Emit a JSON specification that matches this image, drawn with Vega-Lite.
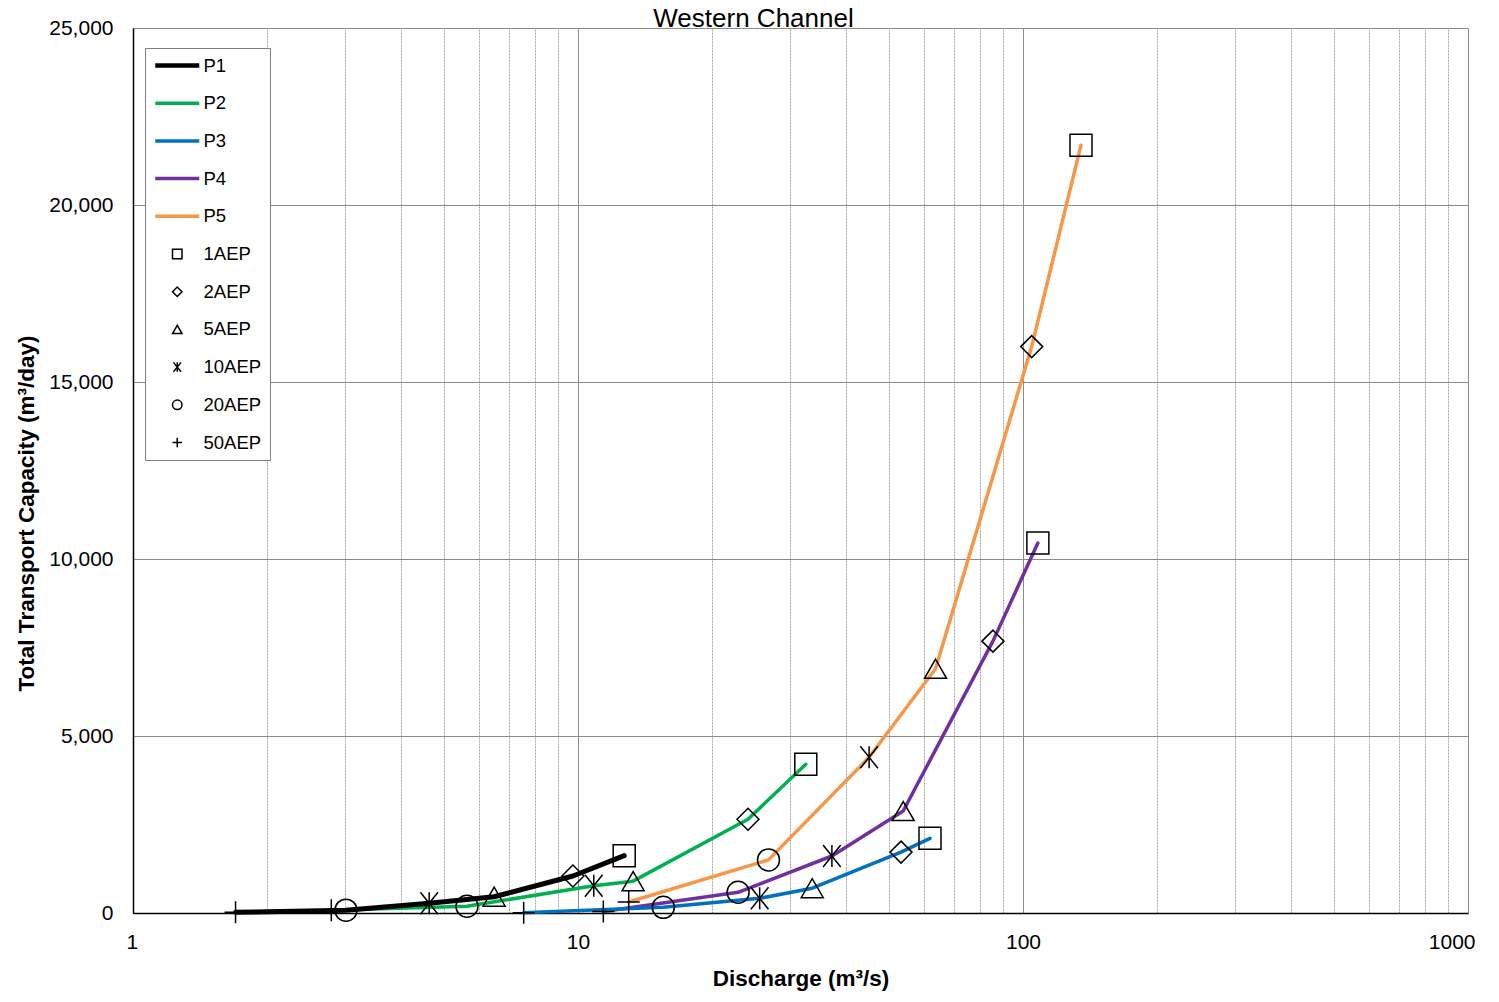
{
  "$schema": "https://vega.github.io/schema/vega-lite/v6.json",
  "width": 1335,
  "height": 885,
  "autosize": "none",
  "padding": {"left": 133, "top": 28, "right": 31, "bottom": 89},
  "background": "white",
  "title": {
    "text": "Western Channel",
    "font": "Liberation Sans",
    "fontSize": 26,
    "fontWeight": "normal",
    "color": "black",
    "anchor": "middle",
    "frame": "group",
    "dx": -47,
    "baseline": "alphabetic",
    "offset": -36
  },
  "data": {
    "values": [
      {"profile": "P5", "aep": "50AEP", "q": 13.0, "tc": 310},
      {"profile": "P5", "aep": "20AEP", "q": 26.8, "tc": 1500},
      {"profile": "P5", "aep": "10AEP", "q": 45.1, "tc": 4400},
      {"profile": "P5", "aep": "5AEP", "q": 63.6, "tc": 6900},
      {"profile": "P5", "aep": "2AEP", "q": 104.6, "tc": 16000},
      {"profile": "P5", "aep": "1AEP", "q": 135, "tc": 21690},
      {"profile": "P4", "aep": "50AEP", "q": 11.4, "tc": 40},
      {"profile": "P4", "aep": "20AEP", "q": 22.9, "tc": 585},
      {"profile": "P4", "aep": "10AEP", "q": 37.2, "tc": 1610},
      {"profile": "P4", "aep": "5AEP", "q": 53.8, "tc": 2880},
      {"profile": "P4", "aep": "2AEP", "q": 85.6, "tc": 7680},
      {"profile": "P4", "aep": "1AEP", "q": 108, "tc": 10450},
      {"profile": "P3", "aep": "50AEP", "q": 7.55, "tc": 10},
      {"profile": "P3", "aep": "20AEP", "q": 15.55, "tc": 160},
      {"profile": "P3", "aep": "10AEP", "q": 25.6, "tc": 415},
      {"profile": "P3", "aep": "5AEP", "q": 33.6, "tc": 700},
      {"profile": "P3", "aep": "2AEP", "q": 53.2, "tc": 1720},
      {"profile": "P3", "aep": "1AEP", "q": 61.8, "tc": 2110},
      {"profile": "P2", "aep": "50AEP", "q": 2.79, "tc": 80},
      {"profile": "P2", "aep": "20AEP", "q": 5.63, "tc": 190},
      {"profile": "P2", "aep": "10AEP", "q": 10.85, "tc": 770},
      {"profile": "P2", "aep": "5AEP", "q": 13.3, "tc": 900},
      {"profile": "P2", "aep": "2AEP", "q": 24.1, "tc": 2650},
      {"profile": "P2", "aep": "1AEP", "q": 32.5, "tc": 4200},
      {"profile": "P1", "aep": "50AEP", "q": 1.70, "tc": 20},
      {"profile": "P1", "aep": "20AEP", "q": 3.01, "tc": 80},
      {"profile": "P1", "aep": "10AEP", "q": 4.63, "tc": 275},
      {"profile": "P1", "aep": "5AEP", "q": 6.48, "tc": 460},
      {"profile": "P1", "aep": "2AEP", "q": 9.74, "tc": 1045},
      {"profile": "P1", "aep": "1AEP", "q": 12.7, "tc": 1620}
    ]
  },
  "layer": [
    {
      "mark": {"type": "line", "strokeCap": "round", "strokeJoin": "round"},
      "encoding": {
        "x": {
          "field": "q", "type": "quantitative",
          "scale": {"type": "log", "domain": [1, 1000], "nice": false},
          "axis": {
            "orient": "bottom",
            "values": [1, 10, 100, 1000],
            "format": "d",
            "title": "Discharge (m³/s)",
            "grid": true,
            "gridColor": "#8c8c8c",
            "gridWidth": 1,
            "ticks": false,
            "domainColor": "black",
            "domainWidth": 1.5,
            "labelPadding": 18,
            "labelFlush": true,
            "labelFlushOffset": 7,
            "titlePadding": 15
          }
        },
        "y": {
          "field": "tc", "type": "quantitative",
          "scale": {"domain": [0, 25000], "nice": false},
          "axis": {
            "values": [0, 5000, 10000, 15000, 20000, 25000],
            "format": ",d",
            "title": "Total Transport Capacity (m³/day)",
            "grid": true,
            "gridColor": "#8c8c8c",
            "gridWidth": 1,
            "ticks": false,
            "domainColor": "black",
            "domainWidth": 1.5,
            "labelPadding": 20,
            "titlePadding": 10,
            "titleY": 485
          }
        },
        "color": {
          "field": "profile", "type": "nominal",
          "scale": {
            "domain": ["P1", "P2", "P3", "P4", "P5", "1AEP", "2AEP", "5AEP", "10AEP", "20AEP", "50AEP"],
            "range": ["#000000", "#00B050", "#0070C0", "#7030A0", "#F79646", "#000000", "#000000", "#000000", "#000000", "#000000", "#000000"]
          },
          "legend": {
            "title": null,
            "orient": "none",
            "legendX": 12,
            "legendY": 20,
            "padding": 8,
            "fillColor": "white",
            "strokeColor": "#7f7f7f",
            "rowPadding": 18.7,
            "clipHeight": 19,
            "labelFont": "Liberation Sans",
            "labelFontSize": 18.5,
            "labelColor": "black",
            "labelOffset": 17,
            "symbolOffset": 15,
            "encode": {
              "symbols": {
                "update": {
                  "shape": {"signal": "datum.value==='1AEP'?'square':datum.value==='2AEP'?'diamond':datum.value==='5AEP'?'triangle-up':datum.value==='10AEP'?'M-0.8,-1L0.8,1M0.8,-1L-0.8,1M0,-1L0,1':datum.value==='20AEP'?'circle':datum.value==='50AEP'?'M-1,0L1,0M0,-1L0,1':'stroke'"},
                  "size": {"signal": "indexof(['P1','P2','P3','P4','P5'], datum.value) >= 0 ? 1936 : 90"},
                  "strokeWidth": {"signal": "datum.value==='P1' ? 4.5 : (indexof(['P2','P3','P4','P5'], datum.value) >= 0 ? 3.5 : 1.5)"},
                  "fill": {"value": "transparent"}
                }
              }
            }
          }
        },
        "strokeWidth": {
          "condition": {"test": "datum.profile === 'P1'", "value": 5},
          "value": 3.5
        }
      }
    },
    {
      "mark": {"type": "point", "filled": false, "size": 484, "strokeWidth": 1.5, "opacity": 1},
      "encoding": {
        "x": {
          "field": "q", "type": "quantitative",
          "axis": {
            "orient": "top",
            "values": [2, 3, 4, 5, 6, 7, 8, 9, 20, 30, 40, 50, 60, 70, 80, 90, 200, 300, 400, 500, 600, 700, 800, 900],
            "grid": true,
            "gridColor": "#a6a6a6",
            "gridDash": [2, 1],
            "gridWidth": 1,
            "labels": false,
            "ticks": false,
            "domain": false,
            "title": null
          }
        },
        "y": {"field": "tc", "type": "quantitative"},
        "color": {"field": "aep", "type": "nominal"},
        "shape": {
          "field": "aep", "type": "nominal",
          "scale": {
            "domain": ["1AEP", "2AEP", "5AEP", "10AEP", "20AEP", "50AEP"],
            "range": ["square", "diamond", "triangle-up", "M-0.8,-1L0.8,1M0.8,-1L-0.8,1M0,-1L0,1", "circle", "M-1,0L1,0M0,-1L0,1"]
          },
          "legend": null
        }
      }
    }
  ],
  "config": {
    "view": {"stroke": null},
    "font": "Liberation Sans",
    "axis": {
      "labelFont": "Liberation Sans",
      "labelFontSize": 21,
      "labelColor": "black",
      "titleFont": "Liberation Sans",
      "titleFontSize": 22.5,
      "titleFontWeight": "bold",
      "titleColor": "black"
    }
  }
}
